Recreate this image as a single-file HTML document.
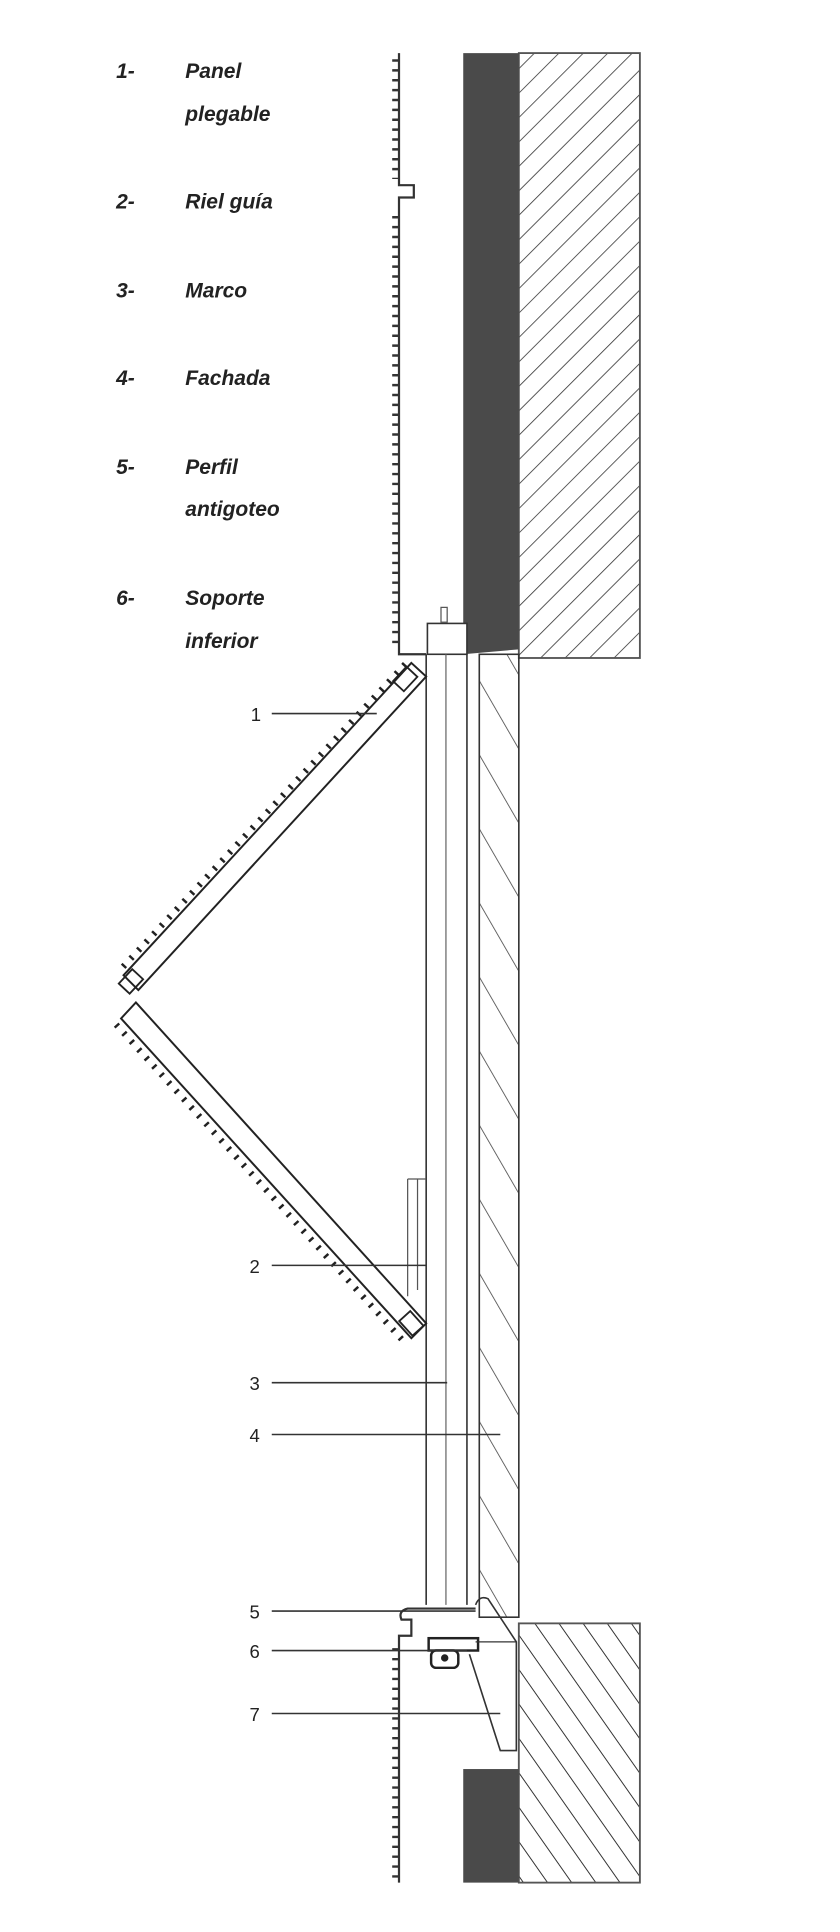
<!DOCTYPE html>
<html><head><meta charset="utf-8"><style>
html,body{margin:0;padding:0;background:#fff;}
svg{display:block;}
text{font-family:"Liberation Sans",sans-serif;fill:#222;}
.lg{font-size:17px;font-weight:bold;font-style:italic;}
.ld{font-size:15px;}
</style></head><body>
<svg width="840" height="1932" viewBox="0 0 680 1565" preserveAspectRatio="none" xmlns="http://www.w3.org/2000/svg">
<defs>
<pattern id="h1" width="14" height="14" patternUnits="userSpaceOnUse" patternTransform="rotate(45)">
<line x1="0" y1="0" x2="0" y2="14" stroke="#333" stroke-width="1.3"/></pattern>
<pattern id="h2" width="16" height="16" patternUnits="userSpaceOnUse" patternTransform="rotate(-35)">
<line x1="0" y1="0" x2="0" y2="16" stroke="#333" stroke-width="1.6"/></pattern>
<pattern id="h3" width="30" height="30" patternUnits="userSpaceOnUse" patternTransform="rotate(-30)">
<line x1="0" y1="0" x2="0" y2="30" stroke="#444" stroke-width="1.3"/></pattern>
</defs>
<!-- legend -->
<g class="lg">
<text x="94" y="63">1-</text><text x="150" y="63">Panel</text><text x="150" y="98">plegable</text>
<text x="94" y="169">2-</text><text x="150" y="169">Riel guía</text>
<text x="94" y="241">3-</text><text x="150" y="241">Marco</text>
<text x="94" y="312">4-</text><text x="150" y="312">Fachada</text>
<text x="94" y="384">5-</text><text x="150" y="384">Perfil</text><text x="150" y="418">antigoteo</text>
<text x="94" y="490">6-</text><text x="150" y="490">Soporte</text><text x="150" y="525">inferior</text>
</g>
<!-- upper wall -->
<rect x="420" y="43" width="98" height="490" fill="url(#h1)" stroke="#555" stroke-width="1.5"/>
<polygon points="375,43 420,43 420,526 375,530" fill="#4a4a4a"/>
<path d="M323,43 V150 H335 V160 H323 V530 H345" fill="none" stroke="#333" stroke-width="1.8"/>
<line x1="320" y1="48" x2="320" y2="145" stroke="#333" stroke-width="5" stroke-dasharray="2 6"/>
<line x1="320" y1="175" x2="320" y2="525" stroke="#333" stroke-width="5" stroke-dasharray="2 6"/>
<!-- frame -->
<rect x="346" y="505" width="32" height="25" fill="#fff" stroke="#333" stroke-width="1.3"/>
<rect x="357" y="492" width="5" height="12" fill="none" stroke="#555"/>
<line x1="345" y1="530" x2="345" y2="1300" stroke="#333" stroke-width="1.3"/>
<line x1="361" y1="530" x2="361" y2="1300" stroke="#666" stroke-width="1"/>
<line x1="378" y1="530" x2="378" y2="1300" stroke="#333" stroke-width="1.3"/>
<!-- facade -->
<rect x="388" y="530" width="32" height="780" fill="url(#h3)" stroke="#333" stroke-width="1.3"/>
<!-- lower parts -->
<rect x="420" y="1315" width="98" height="210" fill="url(#h2)" stroke="#555" stroke-width="1.5"/>
<rect x="375" y="1433" width="45" height="92" fill="#4a4a4a"/>
<path d="M385,1300 Q388,1292 395,1295 L418,1330 V1418 H405 L380,1340" fill="none" stroke="#333" stroke-width="1.3"/>
<path d="M385,1303 H330 Q322,1305 325,1312 H333 V1325 H323 V1525" fill="none" stroke="#333" stroke-width="1.8"/>
<line x1="320" y1="1335" x2="320" y2="1522" stroke="#333" stroke-width="5" stroke-dasharray="2 6"/>
<rect x="347" y="1327" width="40" height="10" fill="#fff" stroke="#222" stroke-width="2"/>
<rect x="349" y="1337" width="22" height="14" rx="4" fill="#fff" stroke="#222" stroke-width="2"/>
<circle cx="360" cy="1343" r="3" fill="#222"/>
<line x1="385" y1="1330" x2="418" y2="1330" stroke="#333"/>
<!-- panel upper arm -->
<polygon points="333,537 345,548 112,802 100,790" fill="#fff" stroke="#222" stroke-width="1.6"/>
<line x1="328" y1="538" x2="97" y2="786" stroke="#222" stroke-width="5" stroke-dasharray="2 7"/>
<rect x="-8" y="-6" width="16" height="12" transform="translate(328,550) rotate(-47)" fill="none" stroke="#222" stroke-width="1.5"/>
<rect x="-8" y="-6" width="16" height="12" transform="translate(106,795) rotate(-47)" fill="none" stroke="#222" stroke-width="1.5"/>
<!-- panel lower arm -->
<polygon points="110,812 345,1072 333,1084 98,825" fill="#fff" stroke="#222" stroke-width="1.6"/>
<line x1="94" y1="830" x2="328" y2="1088" stroke="#222" stroke-width="5" stroke-dasharray="2 7"/>
<rect x="-8" y="-6" width="16" height="12" transform="translate(333,1072) rotate(48)" fill="none" stroke="#222" stroke-width="1.5"/>
<!-- rail detail -->
<path d="M330,955 V1050 M338,955 V1045 M330,955 H345" fill="none" stroke="#555" stroke-width="1"/>
<!-- leaders -->
<g stroke="#333" stroke-width="1.3">
<line x1="220" y1="578" x2="305" y2="578"/>
<line x1="220" y1="1025" x2="345" y2="1025"/>
<line x1="220" y1="1120" x2="362" y2="1120"/>
<line x1="220" y1="1162" x2="405" y2="1162"/>
<line x1="220" y1="1305" x2="385" y2="1305"/>
<line x1="220" y1="1337" x2="378" y2="1337"/>
<line x1="220" y1="1388" x2="405" y2="1388"/>
</g>
<g class="ld">
<text x="203" y="584">1</text><text x="202" y="1031">2</text><text x="202" y="1126">3</text>
<text x="202" y="1168">4</text><text x="202" y="1311">5</text><text x="202" y="1343">6</text><text x="202" y="1394">7</text>
</g>
</svg>
</body></html>
